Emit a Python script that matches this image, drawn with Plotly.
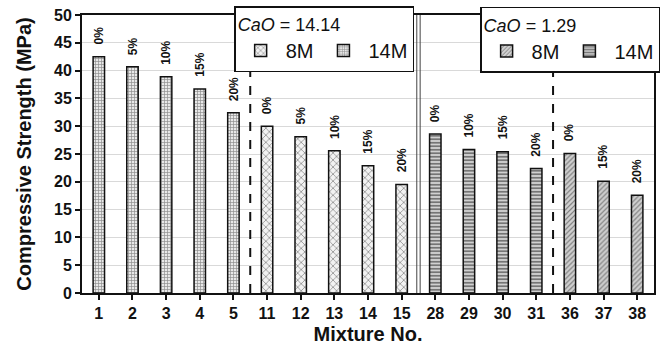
import plotly.graph_objects as go

# ---- data ----
mix_a = ["1", "2", "3", "4", "5"]            # CaO 14.14, 14M
val_a = [42.5, 40.7, 38.9, 36.7, 32.4]
pct_a = ["0%", "5%", "10%", "15%", "20%"]

mix_b = ["11", "12", "13", "14", "15"]       # CaO 14.14, 8M
val_b = [30.0, 28.1, 25.6, 22.9, 19.5]
pct_b = ["0%", "5%", "10%", "15%", "20%"]

mix_c = ["28", "29", "30", "31"]             # CaO 1.29, 14M
val_c = [28.6, 25.8, 25.4, 22.4]
pct_c = ["0%", "10%", "15%", "20%"]

mix_d = ["36", "37", "38"]                   # CaO 1.29, 8M
val_d = [25.1, 20.1, 17.6]
pct_d = ["0%", "15%", "20%"]

all_mix = mix_a + mix_b + mix_c + mix_d
y_ticks = [0, 5, 10, 15, 20, 25, 30, 35, 40, 45, 50]

FONT = "Liberation Sans, Arial, sans-serif"

fig = go.Figure()

def add_bar(x, y, name, shape, legend, rank, bg="white", fg="#222", size=4, solidity=0.35):
    fig.add_trace(go.Bar(
        x=x, y=y, name=name, width=0.34,
        marker=dict(color=bg, line=dict(color="#111", width=1.5),
                    pattern=dict(shape=shape, fgcolor=fg, bgcolor=bg, size=size, solidity=solidity)),
        legend=legend, legendrank=rank, showlegend=True,
    ))

add_bar(mix_a, val_a, "14M", "+", "legend", 2, bg="#e8e8e8", fg="#333", size=3, solidity=0.4)
add_bar(mix_b, val_b, "8M", "x", "legend", 1, bg="#f2f2f2", fg="#333", size=5, solidity=0.3)
add_bar(mix_c, val_c, "14M", "-", "legend2", 2, bg="#d0d0d0", fg="#1a1a1a", size=3.5, solidity=0.5)
add_bar(mix_d, val_d, "8M", "/", "legend2", 1, bg="#d0d0d0", fg="#333", size=3.5, solidity=0.35)

annotations = []
for xs, ys, ps in [(mix_a, val_a, pct_a), (mix_b, val_b, pct_b), (mix_c, val_c, pct_c), (mix_d, val_d, pct_d)]:
    for xv, yv, pv in zip(xs, ys, ps):
        annotations.append(dict(x=all_mix.index(xv), y=yv, xref="x", yref="y",
                                text=pv, textangle=-90, showarrow=False,
                                xanchor="center", yanchor="bottom", yshift=10,
                                font=dict(family=FONT, size=12, color="#111", weight="bold")))

shapes = [
    dict(type="line", xref="x", yref="y", x0=4.5, x1=4.5, y0=0, y1=50,
         line=dict(color="#111", width=2, dash="dash")),
    dict(type="line", xref="x", yref="y", x0=13.5, x1=13.5, y0=0, y1=50,
         line=dict(color="#111", width=2, dash="dash")),
    dict(type="line", xref="x", yref="y", x0=9.45, x1=9.45, y0=0, y1=50,
         line=dict(color="#444", width=1)),
    dict(type="line", xref="x", yref="y", x0=9.55, x1=9.55, y0=0, y1=50,
         line=dict(color="#444", width=1)),
]

legend_common = dict(
    orientation="h", bgcolor="white", bordercolor="#111", borderwidth=1.5,
    font=dict(family=FONT, size=20, color="#111"),
    xanchor="left", yanchor="top", itemwidth=40,
)

fig.update_layout(
    width=670, height=351,
    margin=dict(l=82, r=16, t=15, b=58, autoexpand=False),
    paper_bgcolor="white", plot_bgcolor="white",
    barmode="overlay",
    showlegend=True,
    legend=dict(**legend_common, x=0.266, y=1.032,
                title=dict(text="<i>CaO</i> = 14.14", side="top",
                           font=dict(family=FONT, size=18, color="#111"))),
    legend2=dict(**legend_common, x=0.696, y=1.03,
                 title=dict(text="<i>CaO</i> = 1.29", side="top",
                            font=dict(family=FONT, size=18, color="#111"))),
    xaxis=dict(type="category", categoryorder="array", categoryarray=all_mix,
               range=[-0.5, len(all_mix) - 0.5], dtick=1,
               showline=True, linecolor="#111", linewidth=2, mirror=True,
               ticks="outside", ticklen=5, tickcolor="#111", tickwidth=1.5,
               tickfont=dict(family=FONT, size=16, color="#111", weight="bold"),
               title=dict(text="Mixture No.", standoff=6,
                          font=dict(family=FONT, size=20, color="#111", weight="bold")),
               showgrid=False),
    yaxis=dict(range=[0, 50], tickvals=y_ticks,
               showline=True, linecolor="#111", linewidth=2, mirror=True,
               ticks="outside", ticklen=5, tickcolor="#111", tickwidth=1.5,
               showgrid=True, gridcolor="#d9d9d9", gridwidth=1.2,
               tickfont=dict(family=FONT, size=16, color="#111", weight="bold"),
               title=dict(text="Compressive Strength (MPa)", standoff=17,
                          font=dict(family=FONT, size=20, color="#111", weight="bold")),
               zeroline=False),
    annotations=annotations,
    shapes=shapes,
)

fig.write_html("out.html", config={"displayModeBar": False},
               post_script="document.body.style.margin='0';")
